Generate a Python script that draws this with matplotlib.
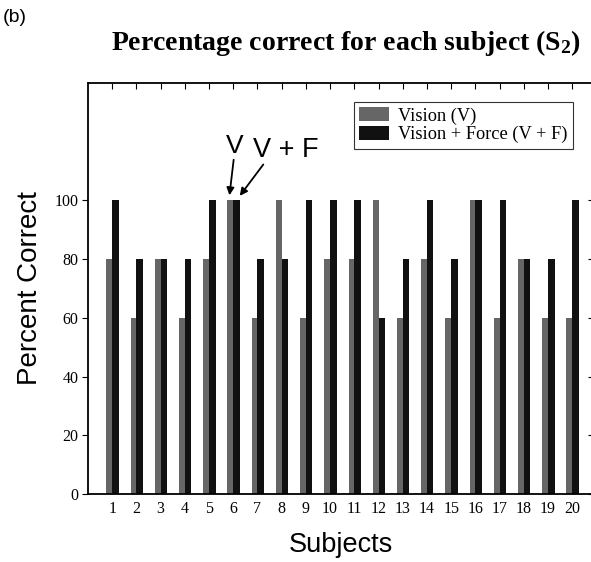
import numpy as np
import matplotlib
matplotlib.use("Agg")
import matplotlib.pyplot as plt
from matplotlib.lines import TICKLEFT

subjects = list(range(1, 21))
vision = [80, 60, 80, 60, 80, 100, 60, 100, 60, 80,
          80, 100, 60, 80, 60, 100, 60, 80, 60, 60]
vision_force = [100, 80, 80, 80, 100, 100, 80, 80, 100, 100,
                100, 60, 80, 100, 80, 100, 100, 80, 80, 100]
y_ticks = [0, 20, 40, 60, 80, 100]

plt.rcParams["mathtext.fontset"] = "custom"
plt.rcParams["mathtext.rm"] = "Liberation Serif:bold"
plt.rcParams["mathtext.it"] = "Liberation Serif:bold"
plt.rcParams["mathtext.bf"] = "Liberation Serif:bold"

fig = plt.figure(figsize=(5.91, 5.62), dpi=100)
ax = fig.add_axes([88 / 591, 1 - 494 / 562, (594 - 88) / 591, (494 - 83) / 562])

x = np.array(subjects)
ax.bar(x, vision, width=-0.24, align="edge", color="#666666", label="Vision (V)")
ax.bar(x, vision_force, width=0.27, align="edge", color="#111111",
       label="Vision + Force (V + F)")

ax.set_xlim(0, 20.9)
ax.set_ylim(0, 140)
ax.set_xticks(subjects)
ax.set_yticks(y_ticks)

serif = "Liberation Serif"
ax.set_xticklabels([str(s) for s in subjects], fontfamily=serif, fontsize=11.5)
ax.set_yticklabels([str(t) for t in y_ticks], fontfamily=serif, fontsize=11.5)
ax.tick_params(axis="x", bottom=False, top=True, direction="in", length=4, pad=5)
ax.tick_params(axis="y", left=True, right=True, direction="out", length=4, pad=3)
for t in ax.yaxis.get_major_ticks():
    t.tick2line.set_marker(TICKLEFT)
    t.tick2line.set_markersize(4)
ax.spines["right"].set_visible(False)
for s in ["left", "top", "bottom"]:
    ax.spines[s].set_linewidth(1.3)

ax.set_ylabel("Percent Correct", fontfamily="Liberation Sans", fontsize=20, labelpad=8)
ax.set_xlabel("Subjects", fontfamily="Liberation Sans", fontsize=19.5, labelpad=11)

fig.text(346 / 591, 1 - 43 / 562, "Percentage correct for each subject (S$_2$)",
         ha="center", va="center", fontfamily=serif, fontweight="bold", fontsize=20)
fig.text(3 / 591, 1 - 18 / 562, "(b)", ha="left", va="center",
         fontfamily="Liberation Sans", fontsize=14)

leg = ax.legend(loc="upper right", bbox_to_anchor=(0.958, 0.954),
                prop={"family": serif, "size": 13.2}, frameon=True, fancybox=False,
                edgecolor="black", borderpad=0.3, labelspacing=0.05,
                handlelength=1.6, handleheight=0.8, handletextpad=0.5, borderaxespad=0)
leg.get_frame().set_linewidth(0.8)

ax.text(6.07, 118.5, "V", ha="center", va="center", fontfamily="Liberation Sans", fontsize=19)
ax.text(6.82, 117.2, "V + F", ha="left", va="center", fontfamily="Liberation Sans", fontsize=19.5)
arrow = dict(arrowstyle="-|>", color="black", lw=1.3, mutation_scale=11)
ax.annotate("", xy=(5.83, 100.8), xytext=(6.03, 114.8), arrowprops=arrow)
ax.annotate("", xy=(6.2, 100.8), xytext=(7.31, 113), arrowprops=arrow)

fig.savefig("out.png", dpi=100)
